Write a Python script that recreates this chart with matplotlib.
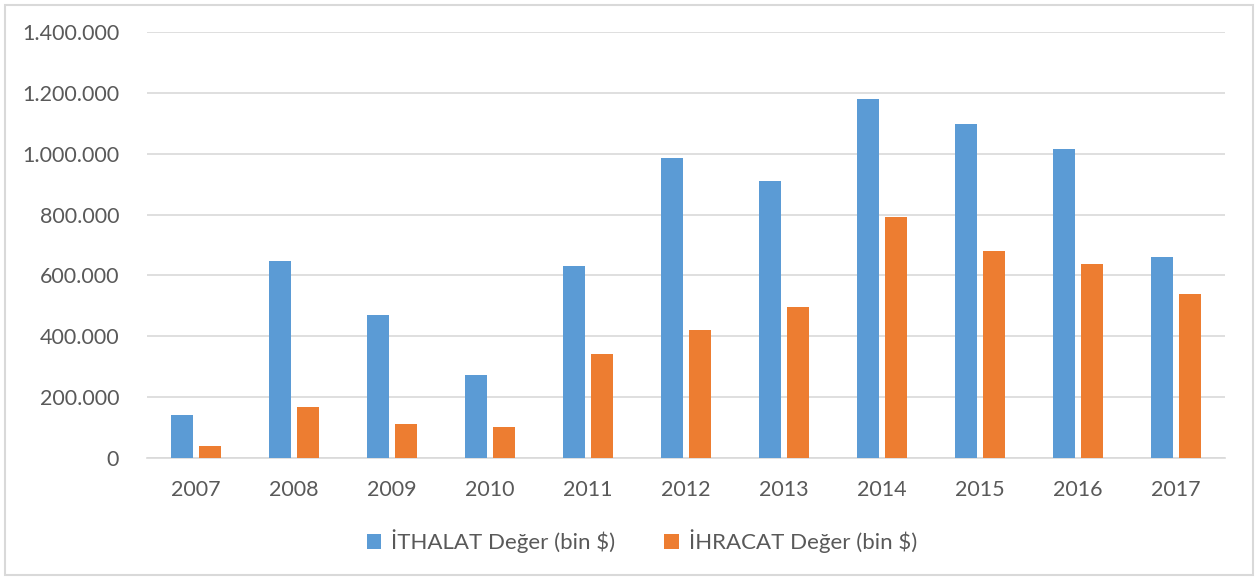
import matplotlib
matplotlib.use("Agg")
import matplotlib.pyplot as plt
import numpy as np
from matplotlib.ticker import FuncFormatter
from matplotlib.patches import Rectangle

# veriler
years = ["2007", "2008", "2009", "2010", "2011", "2012", "2013", "2014", "2015", "2016", "2017"]
ithalat = [141000, 647000, 470000, 273000, 631000, 986000, 910000, 1179000, 1099000, 1015000, 660000]
ihracat = [39000, 166000, 112000, 103000, 342000, 421000, 496000, 791000, 680000, 638000, 539000]
labels = ["İTHALAT Değer (bin $)", "İHRACAT Değer (bin $)"]

plt.rcParams['font.family'] = ['Lato', 'DejaVu Sans']

fig = plt.figure(figsize=(12.58, 5.8), dpi=100)
ax = fig.add_axes([147 / 1258, 1 - 458 / 580, (1225 - 147) / 1258, (458 - 32) / 580])

x = np.arange(len(years))
w = 0.225
gap = 0.06
ax.bar(x - (w + gap) / 2, ithalat, w, color="#5B9BD5", label=labels[0], zorder=3)
ax.bar(x + (w + gap) / 2, ihracat, w, color="#ED7D31", label=labels[1], zorder=3)

ax.set_xlim(-0.5, len(years) - 0.5)
ax.set_ylim(0, 1400000)
ax.set_yticks(np.arange(0, 1400001, 200000))
ax.yaxis.set_major_formatter(FuncFormatter(lambda v, p: f"{int(v):,}".replace(",", ".")))
ax.set_xticks(x)
ax.set_xticklabels(years)

ax.grid(axis="y", color="#d9d9d9", linewidth=1.2, zorder=0)
for s in ["top", "right", "left"]:
    ax.spines[s].set_visible(False)
ax.spines["bottom"].set_color("#d9d9d9")
ax.spines["bottom"].set_linewidth(1.2)
ax.tick_params(axis="both", length=0, labelsize=15.5, colors="#595959")
ax.tick_params(axis="y", pad=20)
ax.tick_params(axis="x", pad=16)

leg = fig.legend(loc="center", bbox_to_anchor=(642 / 1258, 1 - 541 / 580), ncol=2, frameon=False,
                 fontsize=16, handlelength=0.65, handleheight=0.65, columnspacing=2.2, handletextpad=0.45)
for t in leg.get_texts():
    t.set_color("#595959")

# dis cerceve
fig.patches.append(Rectangle((5 / 1258, 5 / 580), 1 - 10 / 1258, 1 - 10 / 580, transform=fig.transFigure,
                             fill=False, edgecolor="#d9d9d9", linewidth=1.5))

fig.savefig("out.png", dpi=100)
